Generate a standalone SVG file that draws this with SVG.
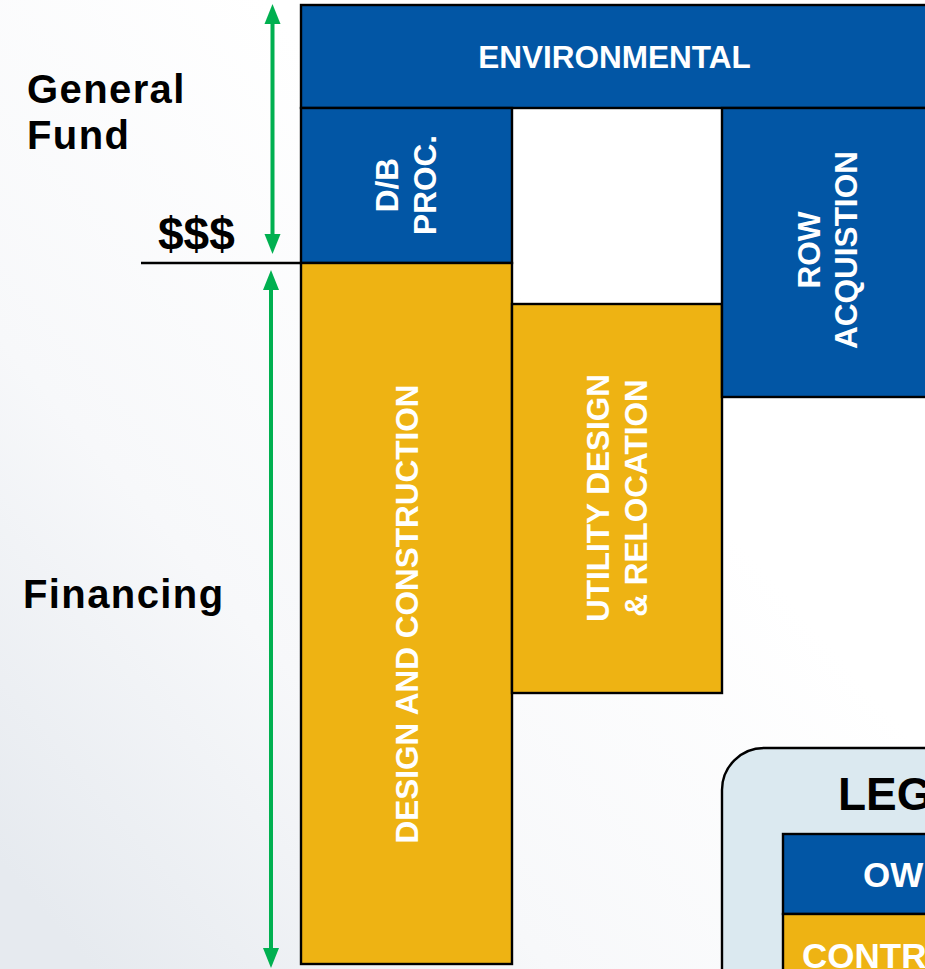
<svg xmlns="http://www.w3.org/2000/svg" width="925" height="969" viewBox="0 0 925 969">
<defs>
<linearGradient id="bg" x1="0.7" y1="0.45" x2="0.1" y2="1">
<stop offset="0" stop-color="#ffffff"/>
<stop offset="0.55" stop-color="#f7f8fa"/>
<stop offset="1" stop-color="#e6eaef"/>
</linearGradient>
<style>
.blk{stroke:#000;stroke-width:2.4}
.blue{fill:#0256A5}
.yel{fill:#EEB313}
.wt{fill:#fff;font-family:"Liberation Sans",Arial,sans-serif;font-weight:bold;font-size:31.5px;text-anchor:middle}
.lbl{fill:#000;font-family:"Liberation Sans",Arial,sans-serif;font-weight:bold;font-size:40px;letter-spacing:1.4px}
.arr{stroke:#00B050;stroke-width:4;fill:none}
.head{fill:#00B050}
</style>
</defs>
<rect width="925" height="969" fill="url(#bg)"/>
<g id="labels">
<text class="lbl" x="27" y="103">General</text>
<text class="lbl" x="27" y="149">Fund</text>
<text class="lbl" x="158" y="250" style="font-size:46px;letter-spacing:0">$$$</text>
<text class="lbl" x="23" y="608">Financing</text>
</g>
<g id="environmental">
<rect class="blue blk" x="301" y="5" width="700" height="103"/>
<text class="wt" x="614.5" y="68">ENVIRONMENTAL</text>
</g>
<g id="db-proc">
<rect class="blue blk" x="301" y="108" width="211" height="155"/>
<text class="wt" transform="translate(398,185) rotate(-90)"><tspan x="0" y="0">D/B</tspan><tspan x="0" y="38">PROC.</tspan></text>
</g>
<g id="design-construction">
<rect class="yel blk" x="301" y="263" width="211" height="701"/>
<text class="wt" transform="translate(418,614) rotate(-90)">DESIGN AND CONSTRUCTION</text>
</g>
<g id="utility">
<rect class="yel blk" x="512" y="304" width="210" height="389"/>
<text class="wt" transform="translate(609,498) rotate(-90)"><tspan x="0" y="0">UTILITY DESIGN</tspan><tspan x="0" y="38">&amp; RELOCATION</tspan></text>
</g>
<g id="row-acquisition">
<rect class="blue blk" x="722" y="108" width="300" height="289"/>
<text class="wt" transform="translate(820,250) rotate(-90)"><tspan x="0" y="0">ROW</tspan><tspan x="0" y="37">ACQUISTION</tspan></text>
</g>
<g id="legend">
<rect class="blk" x="722" y="748" width="400" height="400" rx="42" fill="#DBE9F0"/>
<text class="lbl" x="838" y="810" style="font-size:46px;letter-spacing:0">LEG</text>
<rect class="blue blk" x="783" y="834" width="300" height="80"/>
<text class="wt" x="863" y="887" style="font-size:35px;text-anchor:start">OW</text>
<rect class="yel blk" x="783" y="914" width="300" height="100"/>
<text class="wt" x="802" y="968" style="font-size:35px;text-anchor:start">CONTR</text>
</g>
<g id="connectors">
<line x1="141" y1="263" x2="301" y2="263" stroke="#000" stroke-width="2.4"/>
<line class="arr" x1="272.5" y1="22" x2="272.5" y2="236"/>
<path class="head" d="M264.5,24 L272.5,4 L280.5,24 Z"/>
<path class="head" d="M264.5,234 L272.5,254 L280.5,234 Z"/>
<line class="arr" x1="271" y1="288" x2="271" y2="950"/>
<path class="head" d="M263,290 L271,270 L279,290 Z"/>
<path class="head" d="M263,948 L271,968 L279,948 Z"/>
</g>
</svg>
